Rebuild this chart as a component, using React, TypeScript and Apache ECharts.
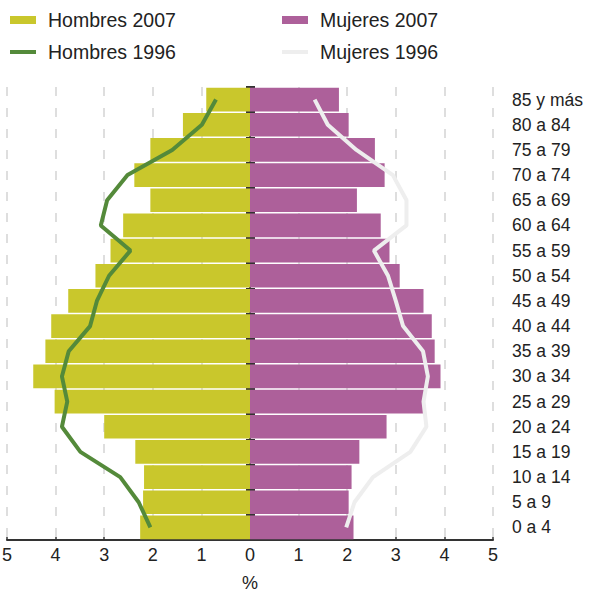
import React, { useEffect, useRef } from "react";
import * as echarts from "echarts";

const categories = [
  "0 a 4", "5 a 9", "10 a 14", "15 a 19", "20 a 24", "25 a 29", "30 a 34", "35 a 39", "40 a 44",
  "45 a 49", "50 a 54", "55 a 59", "60 a 64", "65 a 69", "70 a 74", "75 a 79", "80 a 84", "85 y más",
];
const hombres2007 = [2.26, 2.2, 2.18, 2.36, 3.0, 4.02, 4.46, 4.21, 4.09, 3.74, 3.18, 2.87, 2.61, 2.05, 2.38, 2.05, 1.38, 0.9];
const mujeres2007 = [2.13, 2.03, 2.09, 2.25, 2.81, 3.59, 3.92, 3.8, 3.74, 3.57, 3.08, 2.87, 2.69, 2.2, 2.77, 2.57, 2.03, 1.83];
const hombres1996 = [2.05, 2.29, 2.67, 3.49, 3.87, 3.76, 3.87, 3.73, 3.29, 3.15, 2.9, 2.46, 3.07, 2.94, 2.52, 1.6, 0.99, 0.7];
const mujeres1996 = [1.98, 2.15, 2.53, 3.3, 3.63, 3.57, 3.66, 3.56, 3.15, 3.0, 2.84, 2.55, 3.22, 3.22, 2.94, 2.19, 1.6, 1.33];
const xTicks = { min: -5, max: 5, interval: 1 };

const FONT = "'Liberation Sans', Arial, Helvetica, sans-serif";
const YELLOW = "#c9c72c";
const PURPLE = "#ad609a";
const GREEN = "#548a3a";
const LIGHT = "#eeeeee";

export default function App() {
  const ref = useRef<HTMLDivElement>(null);
  useEffect(() => {
    document.body.style.margin = "0";
    if (!ref.current) return;
    const chart = echarts.init(ref.current, null, { renderer: "svg" });
    const gridLeft = 7;
    const gridRight = 98;
    const gridWidth = 591 - gridLeft - gridRight;
    const half = gridWidth / 2;
    const legendBase = {
      orient: "horizontal" as const,
      itemWidth: 26,
      selectedMode: false,
      textStyle: { fontSize: 19.5, fontFamily: FONT, color: "#222", lineHeight: 20, padding: [0, 0, 0, 7] },
    };
    chart.setOption({
      animation: false,
      legend: [
        { ...legendBase, left: 5, top: 5, itemHeight: 8, icon: "rect", data: ["Hombres 2007"] },
        { ...legendBase, left: 277, top: 5, itemHeight: 8, icon: "rect", data: ["Mujeres 2007"] },
        { ...legendBase, left: 5, top: 37, itemHeight: 4, icon: "rect", data: ["Hombres 1996"] },
        { ...legendBase, left: 277, top: 37, itemHeight: 4, icon: "rect", data: ["Mujeres 1996"] },
      ],
      grid: { left: gridLeft, right: gridRight, top: 87, bottom: 52, containLabel: false, outerBoundsMode: "none" },
      xAxis: {
        type: "value",
        min: xTicks.min,
        max: xTicks.max,
        interval: xTicks.interval,
        name: "%",
        nameLocation: "middle",
        nameGap: 34,
        nameTextStyle: { fontSize: 18, fontFamily: FONT, color: "#222" },
        axisLine: { show: true, onZero: false, lineStyle: { color: "#333", width: 2 } },
        axisTick: { show: true, inside: true, length: 3, lineStyle: { color: "#333", width: 1.5 } },
        axisLabel: {
          fontSize: 18,
          fontFamily: FONT,
          color: "#222",
          margin: 6,
          formatter: (v: number) => String(Math.abs(v)),
        },
        splitLine: { show: true, lineStyle: { color: "#d4d4d4", width: 1.5, type: [9, 12] } },
      },
      yAxis: [
        {
          type: "category",
          data: categories,
          position: "right",
          axisLine: { show: false },
          axisTick: { show: false },
          axisLabel: { fontSize: 17.5, fontFamily: FONT, color: "#222", margin: 19, align: "left" },
          splitLine: { show: false },
        },
        {
          type: "category",
          data: categories,
          position: "left",
          offset: -half,
          axisLine: { show: true, onZero: false, lineStyle: { color: "#333", width: 2 } },
          axisTick: { show: true, alignWithLabel: true, interval: 0, length: 4, lineStyle: { color: "#222", width: 2 } },
          axisLabel: { show: false },
          splitLine: { show: false },
        },
        {
          type: "category",
          data: categories,
          position: "left",
          offset: -(half + 5),
          axisLine: { show: false, onZero: false },
          axisTick: { show: true, interval: 0, length: 9, lineStyle: { color: "#333", width: 2 } },
          axisLabel: { show: false },
          splitLine: { show: false },
        },
      ],
      series: [
        {
          name: "Hombres 2007",
          type: "bar",
          stack: "p",
          yAxisIndex: 0,
          barCategoryGap: "6%",
          itemStyle: { color: YELLOW },
          data: hombres2007.map((v) => -v),
        },
        {
          name: "Mujeres 2007",
          type: "bar",
          stack: "p",
          yAxisIndex: 0,
          barCategoryGap: "6%",
          itemStyle: { color: PURPLE },
          data: mujeres2007,
        },
        {
          name: "Hombres 1996",
          type: "line",
          yAxisIndex: 0,
          symbol: "none",
          itemStyle: { color: GREEN },
          lineStyle: { color: GREEN, width: 4 },
          data: hombres1996.map((v) => -v),
        },
        {
          name: "Mujeres 1996",
          type: "line",
          yAxisIndex: 0,
          symbol: "none",
          itemStyle: { color: LIGHT },
          lineStyle: { color: LIGHT, width: 4 },
          data: mujeres1996,
        },
      ],
    });
    return () => chart.dispose();
  }, []);
  return <div ref={ref} style={{ width: 591, height: 592 }} />;
}
